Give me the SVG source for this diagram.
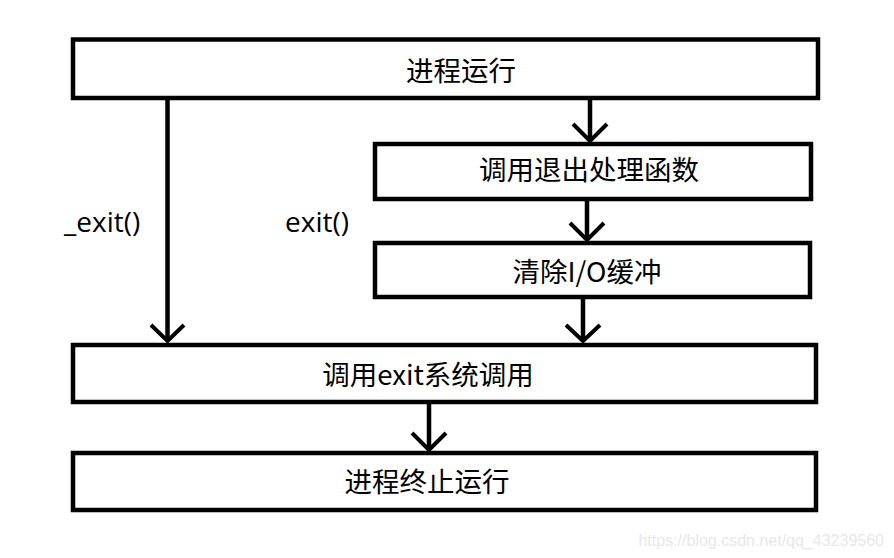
<svg xmlns="http://www.w3.org/2000/svg" width="894" height="558" viewBox="0 0 894 558">
<style>
.box{fill:#fff;stroke:#000;stroke-width:4.5}
.t{font-family:"Microsoft YaHei","Noto Sans CJK SC",sans-serif;font-size:27.5px;fill:#000;text-anchor:middle}
.l{font-family:"Segoe UI","Open Sans","Noto Sans",sans-serif;font-size:28px;fill:#000}
.c{stroke:#000;stroke-width:4.5;fill:none}
.h{stroke:#000;stroke-width:4;fill:none}
.w{font-family:Arial,"Liberation Sans",sans-serif;font-size:16px;fill:#e8e8e8;text-anchor:end}
</style>
<rect width="894" height="558" fill="#fff"/>
<g id="connectors">
<line class="c" x1="167.5" y1="100" x2="167.5" y2="341"/>
<polyline class="h" points="151,325 167.5,341 184,325"/>
<line class="c" x1="590" y1="100" x2="590" y2="141"/>
<polyline class="h" points="573,124 590,141 607,124"/>
<line class="c" x1="587" y1="200" x2="587" y2="240"/>
<polyline class="h" points="570,223 587,240 604,223"/>
<line class="c" x1="583" y1="299" x2="583" y2="341"/>
<polyline class="h" points="566,325 583,341 600,325"/>
<line class="c" x1="429" y1="404" x2="429" y2="450"/>
<polyline class="h" points="412,433 429,450 446,433"/>
</g>
<g id="n1"><rect class="box" x="73" y="39.5" width="745" height="58.5"/><text class="t" x="461" y="81">进程运行</text></g>
<g id="n2"><rect class="box" x="375" y="144" width="436" height="55"/><text class="t" x="589" y="180">调用退出处理函数</text></g>
<g id="n3"><rect class="box" x="375" y="243" width="435" height="54"/><text class="t" x="587" y="282">清除I/O缓冲</text></g>
<g id="n4"><rect class="box" x="73" y="345" width="743" height="57"/><text class="t" x="428" y="385">调用exit系统调用</text></g>
<g id="n5"><rect class="box" x="73" y="453" width="743" height="57"/><text class="t" x="427" y="492">进程终止运行</text></g>
<text class="l" x="64" y="232">_exit()</text>
<text class="l" x="285" y="232">exit()</text>
<text class="w" x="884" y="546">https://blog.csdn.net/qq_43239560</text>
</svg>
